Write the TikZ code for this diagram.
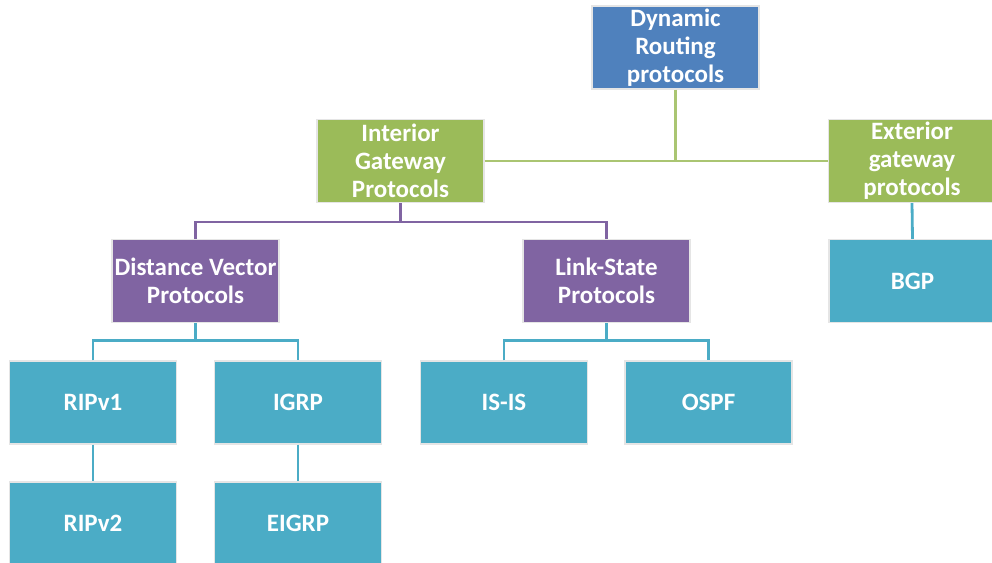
\documentclass[tikz,border=0pt]{standalone}
\usepackage{fontspec}
\setmainfont{Carlito}
\usetikzlibrary{positioning,calc}
\definecolor{dynblue}{HTML}{4F81BD}
\definecolor{gwgreen}{HTML}{9BBB59}
\definecolor{lsviolet}{HTML}{8064A2}
\definecolor{prteal}{HTML}{4BACC6}

\begin{document}
\begin{tikzpicture}[x=1pt,y=-1pt,
  box/.style={draw=black!10,line width=1.2pt,text=white,align=center,
    font=\fontsize{25}{28}\selectfont\bfseries,
    minimum width=167pt,minimum height=83pt,inner sep=0pt},
  link/.style={line width=2.8pt}]
\useasboundingbox (0,0) rectangle (992,562);
% top level
\node[box,fill=dynblue] (dyn) at (675.5,47.5) {Dynamic\\Routing\\protocols};
\node[box,fill=gwgreen] (igp) at (400.5,161) {Interior\\Gateway\\Protocols};
\node[box,fill=gwgreen] (egp) at (912,161) {Exterior\\gateway\\protocols};
% protocol families
\node[box,fill=lsviolet] (dv) at (195.5,281) {Distance Vector\\Protocols};
\node[box,fill=lsviolet] (ls) at (606.5,281) {Link-State\\Protocols};
\node[box,fill=prteal] (bgp) at (912.5,281) {BGP};
% protocols
\node[box,fill=prteal] (rip1) at (93,402.5) {RIPv1};
\node[box,fill=prteal] (igrp) at (298,402.5) {IGRP};
\node[box,fill=prteal] (isis) at (504,402.5) {IS-IS};
\node[box,fill=prteal] (ospf) at (708.5,402.5) {OSPF};
\node[box,fill=prteal] (rip2) at (93,523.5) {RIPv2};
\node[box,fill=prteal] (eigrp) at (298,523.5) {EIGRP};

\path[link,draw=gwgreen!85!white]
(igp.east) edge (egp.west)
(dyn.south) edge (dyn.south |- igp.east)
;
\draw[link,lsviolet] (dv.north) -- ++(0,-17) coordinate (vbus) -| (ls.north);
\draw[link,lsviolet] (igp.south) -- (igp.south |- vbus);
\draw[link,prteal] (rip1.north) -- ++(0,-20) coordinate (dbus) -| (igrp.north);
\draw[link,prteal] (dv.south) -- (dv.south |- dbus);
\draw[link,prteal] (isis.north) -- ++(0,-20) coordinate (lbus) -| (ospf.north);
\draw[link,prteal] (ls.south) -- (ls.south |- lbus);
\path[link,draw=prteal]
(egp.south) edge (bgp.north)
(rip1.south) edge (rip2.north)
(igrp.south) edge (eigrp.north)
;
\end{tikzpicture}
\end{document}
